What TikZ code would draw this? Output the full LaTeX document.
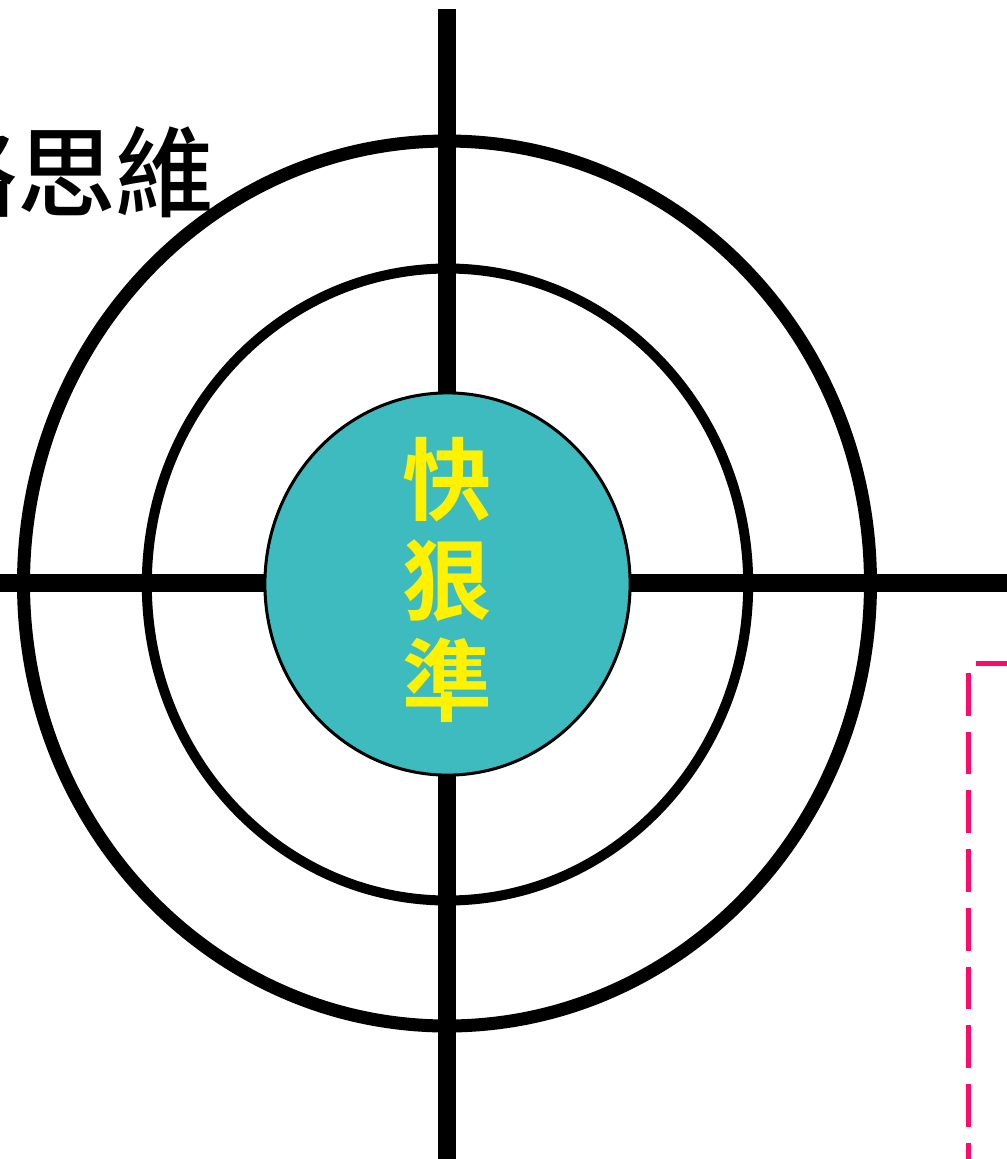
\documentclass[tikz,border=0pt]{standalone}
\usepackage{fontspec}
\usetikzlibrary{shapes.geometric}
\newfontfamily\cjk{Noto Sans CJK TC Bold}
\newfontfamily\cjkmed{Noto Sans CJK TC Medium}
\definecolor{bullteal}{HTML}{3DBBBF}
\definecolor{markpink}{HTML}{FF0A6C}
\begin{document}
\begin{tikzpicture}[x=0.01cm,y=-0.01cm]
  \useasboundingbox (0,0) rectangle (1007,1159);

  \draw[line width=0.185cm] (447,9) -- (447,1159);
  \draw[line width=0.18cm] (0,583) -- (1007,583);

  \begin{scope}[every path/.style={draw}]
    \draw[line width=0.13cm] (447,583.5) ellipse [x radius=423.5, y radius=442.5];
    \draw[line width=0.10cm] (447.5,584.5) ellipse [x radius=300.7, y radius=316];
  \end{scope}

  \node (0) [ellipse, draw, line width=0.03cm, fill=bullteal, minimum width=3.65cm,
             minimum height=3.82cm, inner sep=0pt] at (447.5,584) {};
  \node (1) [text=yellow, align=center, font=\cjk\fontsize{25.5}{28.6}\selectfont]
        at ([yshift=0.04cm]0.center) {快\\狠\\準};

  \node (2) [anchor=east, inner sep=0pt, font=\cjkmed\fontsize{28}{30}\selectfont]
        at (215,172) {策略思維};

  \begin{scope}[markpink, line width=0.05cm]
    \draw[dash pattern=on 0.427cm off 0.16cm] (969,673) -- (969,1170);
    \draw (976,663.5) -- (1015,663.5);
  \end{scope}
\end{tikzpicture}
\end{document}
